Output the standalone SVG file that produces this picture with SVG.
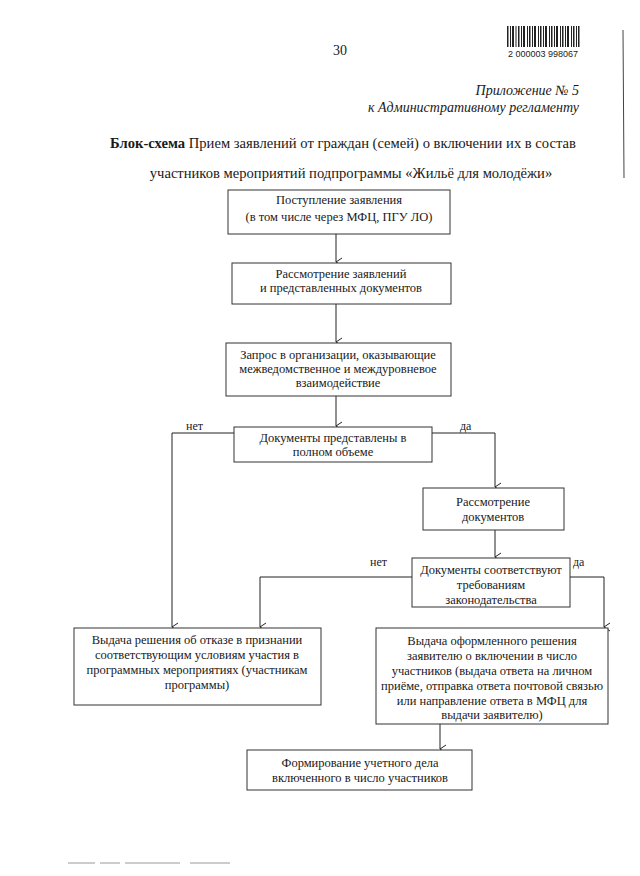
<svg xmlns="http://www.w3.org/2000/svg" width="640" height="876" viewBox="0 0 640 876">
<style>
text{font-family:"Liberation Serif","Times New Roman",serif;fill:#1a1a1a}
.t{font-size:12.5px;text-anchor:middle}
.lbl{font-size:12px}
.box{fill:#fff;stroke:#333;stroke-width:1}
.con{fill:none;stroke:#222;stroke-width:1}
.ttl{font-size:14.6px}
.it{font-size:14px;font-style:italic;text-anchor:end}
</style>
<defs>
<marker id="arr" viewBox="0 0 10 10" refX="5" refY="9" markerWidth="10" markerHeight="10" markerUnits="userSpaceOnUse" orient="auto-start-reverse">
<path d="M1,3 L5,9 L9,3" fill="none" stroke="#222" stroke-width="1"/>
</marker>
</defs>
<rect width="640" height="876" fill="#fff"/>
<g id="header">
<text x="340" y="55" style="font-size:14px" text-anchor="middle">30</text>
<g id="barcode" fill="#222">
<rect x="507" y="26" width="1.5" height="21"/><rect x="510" y="26" width="1" height="21"/><rect x="512" y="26" width="2" height="21"/><rect x="515.5" y="26" width="1" height="21"/><rect x="518" y="26" width="1.5" height="21"/><rect x="521" y="26" width="1" height="21"/><rect x="523" y="26" width="2" height="21"/><rect x="527" y="26" width="1" height="21"/><rect x="529" y="26" width="1.5" height="21"/><rect x="532" y="26" width="1" height="21"/><rect x="534" y="26" width="2" height="21"/><rect x="538" y="26" width="1" height="21"/><rect x="540" y="26" width="1.5" height="21"/><rect x="543" y="26" width="1" height="21"/><rect x="545" y="26" width="2" height="21"/><rect x="549" y="26" width="1" height="21"/><rect x="551" y="26" width="1.5" height="21"/><rect x="554" y="26" width="1" height="21"/><rect x="556" y="26" width="2" height="21"/><rect x="560" y="26" width="1" height="21"/><rect x="562" y="26" width="1.5" height="21"/><rect x="565" y="26" width="1" height="21"/><rect x="567" y="26" width="2" height="21"/><rect x="571" y="26" width="1" height="21"/><rect x="573" y="26" width="1.5" height="21"/><rect x="576" y="26" width="1" height="21"/><rect x="578" y="26" width="1.5" height="21"/>
</g>
<text x="543" y="57" style="font-family:'Liberation Sans',Arial,sans-serif;font-size:9px" text-anchor="middle">2 000003 998067</text>
<text x="579" y="95" class="it">Приложение № 5</text>
<text x="579" y="112" class="it">к Административному регламенту</text>
<text x="343" y="148" class="ttl" text-anchor="middle"><tspan font-weight="bold">Блок-схема</tspan> Прием заявлений от граждан (семей) о включении их в состав</text>
<text x="351" y="178" class="ttl" text-anchor="middle">участников мероприятий подпрограммы «Жильё для молодёжи»</text>
</g>
<g id="connectors">
<path class="con" d="M336,234 V262" marker-end="url(#arr)"/>
<path class="con" d="M336,304 V342" marker-end="url(#arr)"/>
<path class="con" d="M336,396 V426" marker-end="url(#arr)"/>
<path class="con" d="M234,433 H172 V627" marker-end="url(#arr)"/>
<path class="con" d="M432,433 H495 V487" marker-end="url(#arr)"/>
<path class="con" d="M495,530 V557" marker-end="url(#arr)"/>
<path class="con" d="M412,577 H260 V627" marker-end="url(#arr)"/>
<path class="con" d="M570,577 H604 V627" marker-end="url(#arr)"/>
<path class="con" d="M440,724 V749" marker-end="url(#arr)"/>
<text x="186" y="430" class="lbl">нет</text>
<text x="460" y="430" class="lbl">да</text>
<text x="370" y="566" class="lbl">нет</text>
<text x="573" y="566" class="lbl">да</text>
</g>
<g id="n1"><rect class="box" x="228" y="190" width="222" height="44"/>
<text class="t" x="339" y="204">Поступление заявления</text>
<text class="t" x="339" y="221">(в том числе через МФЦ, ПГУ ЛО)</text></g>
<g id="n2"><rect class="box" x="232" y="263" width="219" height="41"/>
<text class="t" x="341" y="278">Рассмотрение заявлений</text>
<text class="t" x="341" y="292">и представленных документов</text></g>
<g id="n3"><rect class="box" x="226" y="343" width="225" height="53"/>
<text class="t" x="338" y="359">Запрос в организации, оказывающие</text>
<text class="t" x="338" y="373">межведомственное и междуровневое</text>
<text class="t" x="338" y="387">взаимодействие</text></g>
<g id="n4"><rect class="box" x="234" y="427" width="198" height="35"/>
<text class="t" x="333" y="442">Документы представлены в</text>
<text class="t" x="333" y="456">полном объеме</text></g>
<g id="n5"><rect class="box" x="423" y="488" width="141" height="42"/>
<text class="t" x="493" y="506">Рассмотрение</text>
<text class="t" x="493" y="521">документов</text></g>
<g id="n6"><rect class="box" x="412" y="558" width="158" height="49"/>
<text class="t" x="491" y="574">Документы соответствуют</text>
<text class="t" x="491" y="589">требованиям</text>
<text class="t" x="491" y="604">законодательства</text></g>
<g id="n7"><rect class="box" x="74" y="628" width="247" height="77"/>
<text class="t" x="197" y="644">Выдача решения об отказе в признании</text>
<text class="t" x="197" y="659">соответствующим условиям участия в</text>
<text class="t" x="197" y="674">программных мероприятиях (участникам</text>
<text class="t" x="197" y="689">программы)</text></g>
<g id="n8"><rect class="box" x="376" y="628" width="232" height="96"/>
<text class="t" x="492" y="645">Выдача оформленного решения</text>
<text class="t" x="492" y="660">заявителю о включении в число</text>
<text class="t" x="492" y="675">участников (выдача ответа на личном</text>
<text class="t" x="492" y="690">приёме, отправка ответа почтовой связью</text>
<text class="t" x="492" y="705">или направление ответа в МФЦ для</text>
<text class="t" x="492" y="719">выдачи заявителю)</text></g>
<g id="n9"><rect class="box" x="247" y="750" width="225" height="40"/>
<text class="t" x="360" y="767">Формирование учетного дела</text>
<text class="t" x="360" y="782">включенного в число участников</text></g>
<g id="artifacts" stroke="#555" stroke-width="1">
<line x1="623" y1="30" x2="624" y2="178" stroke="#444"/>
<line x1="68" y1="863" x2="95" y2="863" stroke="#999"/>
<line x1="100" y1="863" x2="120" y2="863" stroke="#999"/>
<line x1="125" y1="863" x2="180" y2="863" stroke="#999"/>
<line x1="190" y1="863" x2="230" y2="863" stroke="#999"/>
</g>
</svg>
